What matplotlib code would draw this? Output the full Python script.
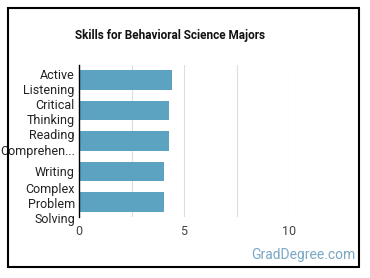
import matplotlib.pyplot as plt
from matplotlib.patches import Rectangle

# data
skills = ['Active\nListening', 'Critical\nThinking', 'Reading\nComprehen...',
          'Writing', 'Complex\nProblem\nSolving']
scores = [4.43, 4.29, 4.29, 4.05, 4.05]
xticks = [0, 5, 10]

plt.rcParams['font.family'] = ['Roboto', 'DejaVu Sans']

fig = plt.figure(figsize=(3.70, 2.78), dpi=100)
ax = fig.add_axes([79 / 370, 1 - 217 / 278, 210 / 370, 152 / 278])

ypos = list(range(len(skills)))
ax.barh(ypos, scores, height=0.64, color='#5ba3c1', zorder=2)
ax.set_ylim(len(skills) - 0.5, -0.5)
ax.set_xlim(0, 10)
ax.set_yticks(ypos)
ax.set_yticklabels(skills, fontsize=9, color='#222222', linespacing=1.2)
ax.set_xticks(xticks)
ax.set_xticklabels([str(t) for t in xticks], fontsize=9, color='#444444')
ax.set_xticks([2.5, 7.5], minor=True)
ax.grid(True, axis='x', which='both', color='#dddddd', linewidth=0.8, zorder=0)
ax.tick_params(axis='y', which='both', length=0, pad=3)
ax.tick_params(axis='x', which='both', length=0, pad=6)

for s in ['top', 'right', 'bottom']:
    ax.spines[s].set_visible(False)
ax.spines['left'].set_color('black')
ax.spines['left'].set_linewidth(1.0)
ax.spines['left'].set_zorder(3)

fig.text(170 / 370, 1 - 36 / 278, 'Skills for Behavioral Science Majors',
         ha='center', va='center', fontsize=8.5, fontweight='bold', color='#111111')
fig.text(355 / 370, 1 - 255 / 278, 'GradDegree.com', ha='right', va='center',
         fontsize=10, color='#79a7c4')

# outer frame
fig.patches.append(Rectangle((8 / 370, 1 - 267 / 278), 351 / 370, 259 / 278,
                             transform=fig.transFigure, fill=False,
                             edgecolor='black', linewidth=1.5))

fig.savefig('out.png', dpi=100)
